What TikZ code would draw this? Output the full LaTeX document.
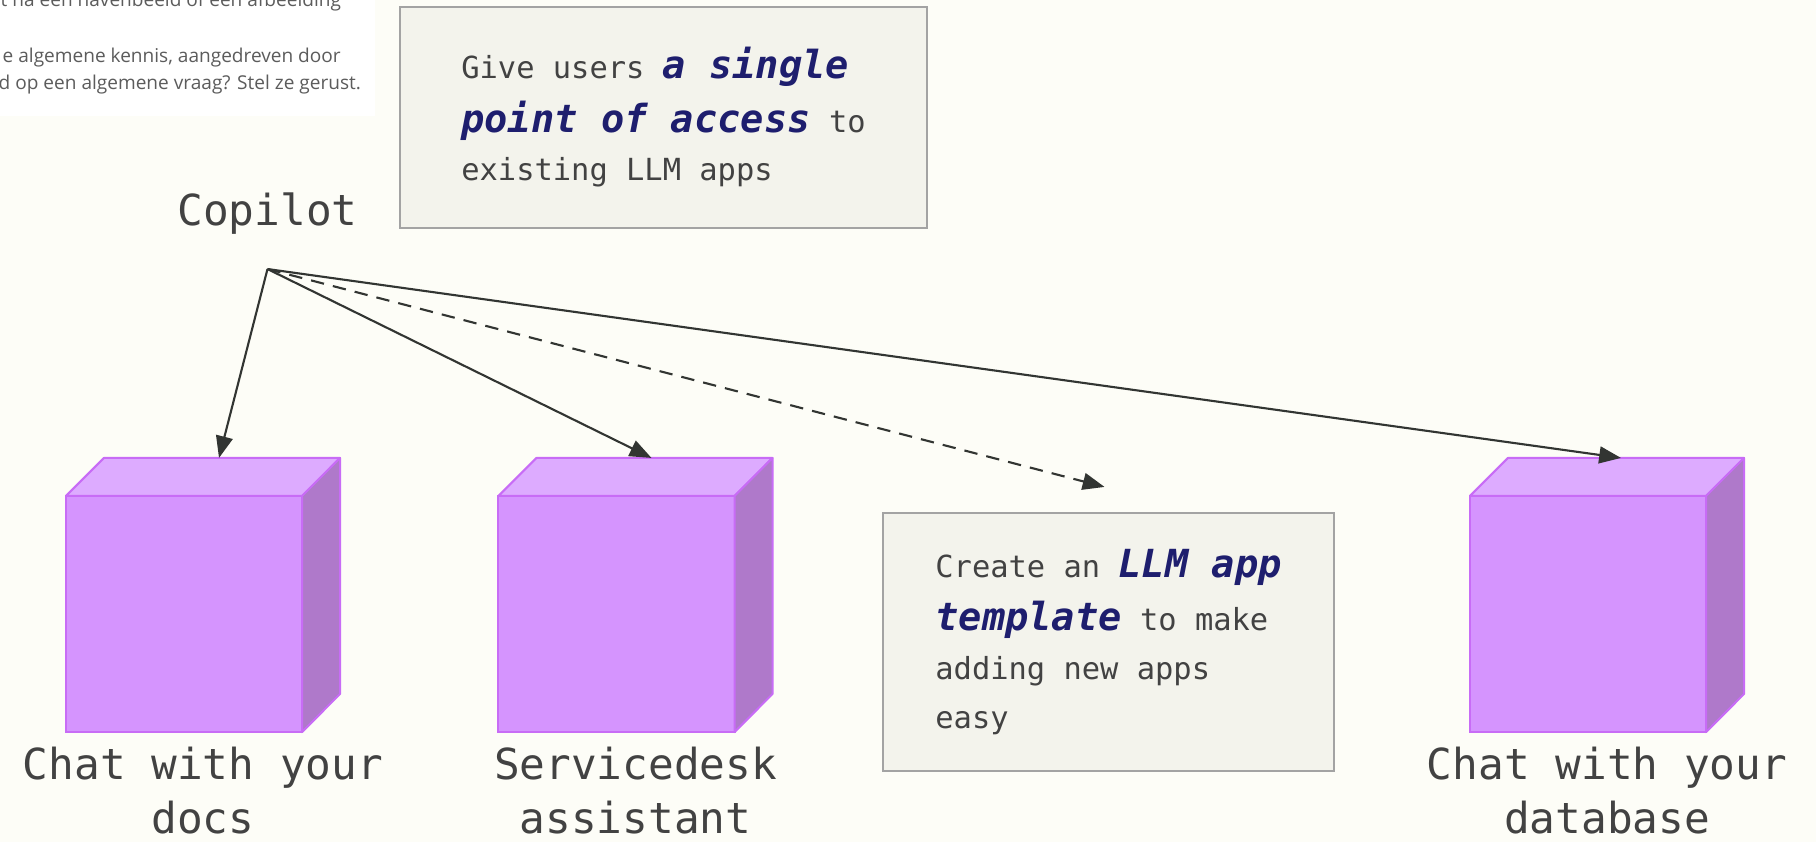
\documentclass[tikz,border=0pt]{standalone}
\usepackage{fontspec}
\setmonofont{DejaVu Sans Mono}
\newfontfamily\uifont{Open Sans}
\usetikzlibrary{arrows.meta,positioning,calc}

\definecolor{paper}{HTML}{FDFDF7}
\definecolor{notefill}{HTML}{F3F3EC}
\definecolor{noteedge}{HTML}{A3A3A3}
\definecolor{cubefront}{HTML}{D594FE}
\definecolor{cubetop}{HTML}{DDABFF}
\definecolor{cubeside}{HTML}{AF79CA}
\definecolor{cubeedge}{HTML}{C86CF6}
\definecolor{ink}{HTML}{424242}
\definecolor{hlblue}{HTML}{1E1E6E}
\definecolor{arrowgray}{HTML}{323532}
\definecolor{shotgray}{HTML}{5C5C5C}

\newcommand\hilite[1]{{\fontsize{11}{13}\selectfont\bfseries\itshape\color{hlblue}#1}}

\tikzset{
  app/.style={draw=cubeedge,fill=cubefront,line width=0.57pt,minimum size=2.36cm,inner sep=0pt,outer sep=0pt},
  face/.style={draw=cubeedge,line width=0.57pt,line join=round},
  applabel/.style={font=\ttfamily\fontsize{12.15}{15.2}\selectfont,text=ink,align=center,inner sep=0pt},
  note/.style={draw=noteedge,fill=notefill,line width=0.57pt,inner sep=0pt,align=left,text=ink,font=\ttfamily\fontsize{8.65}{13.8}\selectfont},
  flow/.style={draw=arrowgray,line width=0.6pt,-{Triangle[length=6.2pt,width=4.8pt]}},
  shot/.style={anchor=base west,inner sep=0pt,text=shotgray,font=\uifont\fontsize{5.42}{6.5}\selectfont},
}

\begin{document}
\begin{tikzpicture}[x=0.01cm,y=-0.01cm]
\useasboundingbox[fill=paper] (0,0) rectangle (1816,842);
% corner of the chat window
\fill[white] (0,0) rectangle (375,116);
\begin{scope}
\clip (0,0) rectangle (375,116);
\node[shot] (shot1) at (0,6) {t na een havenbeeld of een afbeelding};
\node[shot] (shot2) at (2,62) {e algemene kennis, aangedreven door};
\node[shot] (shot3) at (-2,89) {d op een algemene vraag? Stel ze gerust.};
\end{scope}

\node[note,minimum width=5.27cm,minimum height=2.21cm] (access) at (663.5,117.5) {Give users \hilite{a single}\\[1.4pt]\hilite{point of access} to\\existing LLM apps};
\node[note,minimum width=4.51cm,minimum height=2.58cm] (template) at (1108.5,642) {Create an \hilite{LLM app}\\[1.3pt]\hilite{template} to make\\adding new apps\\easy};

\node[applabel,anchor=base] (copilot) at (267.5,225) {Copilot};
\coordinate (hub) at ([yshift=-0.44cm]copilot.base);

% the apps
\node[app] (docs) at (184,614) {};
\node[app] (desk) at (616.5,614) {};
\node[app] (db) at (1588,614) {};
\foreach \c in {docs,desk,db}{
  \draw[face,fill=cubetop] (\c.north west)--++(38,-38)--++(236,0)--(\c.north east)--cycle;
  \draw[face,fill=cubeside] (\c.north east)--++(38,-38)--++(0,236)--(\c.south east)--cycle;}
\node[applabel,anchor=base] (docs-lbl) at ([shift={(19,101)}]docs.south) {Chat with your\\docs};
\node[applabel,anchor=base] (desk-lbl) at ([shift={(19,101)}]desk.south) {Servicedesk\\assistant};
\node[applabel,anchor=base] (db-lbl) at ([shift={(19,101)}]db.south) {Chat with your\\database};

\draw[flow] (hub) -- ([shift={(35,-38)}]docs.north);
\draw[flow] (hub) -- ([shift={(35,-38)}]desk.north);
\draw[flow,dash pattern=on 3.8pt off 2.6pt] (hub) -- ([shift={(-4,-25)}]template.north);
\draw[flow] (hub) -- ([shift={(33,-38)}]db.north);
\end{tikzpicture}
\end{document}
